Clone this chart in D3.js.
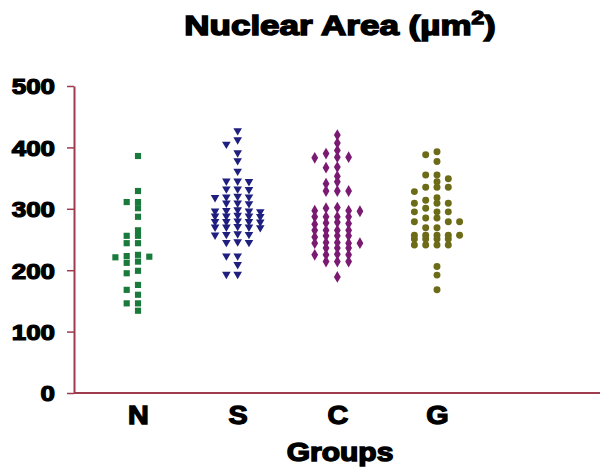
<!DOCTYPE html>
<html>
<head>
<meta charset="utf-8">
<script src="https://cdn.jsdelivr.net/npm/d3@7"></script>
<style>
  body { margin: 0; background: #fff; }
  text { font-family: "Liberation Sans", Arial, sans-serif; font-weight: bold; }
</style>
</head>
<body>
<script>
// data (um^2)
var groups = ["N", "S", "C", "G"];
var nValues = [386, 329, 311, 311, 301, 287, 265, 256, 256, 244, 244, 225, 223, 222, 221, 214, 212, 199, 195, 176, 168, 160, 146, 146, 134];
var sValues = [426, 411, 404, 390, 377, 360, 344, 344, 343, 331, 331, 330, 318, 318, 317, 319, 308, 308, 307, 296, 295, 295, 294, 297,
               287, 287, 288, 286, 287, 278, 278, 279, 277, 278, 269, 269, 270, 268, 269, 257, 257, 258, 256, 244, 244, 245, 222, 222, 208, 192, 192];
var cValues = [420, 407, 395, 390, 384, 384, 383, 368, 367, 353, 344, 341, 329, 329, 329, 302, 301, 297, 297, 296, 287, 287, 287, 287,
               277, 278, 276, 275, 265, 265, 265, 265, 256, 256, 254, 256, 244, 244, 245, 245, 244, 236, 236, 236, 225, 225, 226, 225, 214, 214, 214, 189];
var gValues = [393, 388, 377, 355, 355, 349, 344, 335, 335, 335, 328, 318, 314, 309, 309, 309, 301, 295, 295, 295, 285, 285, 279, 279, 279,
               269, 269, 257, 257, 257, 257, 257, 251, 251, 251, 251, 241, 241, 241, 241, 206, 192, 168];
var yTicks = [0, 100, 200, 300, 400, 500];

var W = 602, H = 467;
var x0 = 74, y0 = 393, yTop = 86, xEnd = 600;
var axisColor = "#9e3b4f";

var series = [
  {name: "N", values: nValues, color: "#1a7a3c", shape: d3.symbolSquare, size: 38},
  {name: "S", values: sValues, color: "#1f1f7f", shape: "tri", size: 0},
  {name: "C", values: cValues, color: "#7a1a72", shape: d3.symbolDiamond, size: 40},
  {name: "G", values: gValues, color: "#6c6c18", shape: d3.symbolCircle, size: 38}
];

var svg = d3.select("body").append("svg").attr("width", W).attr("height", H);

var y = d3.scaleLinear().domain([0, 500]).range([y0, yTop]);
var x = d3.scalePoint().domain(groups).range([138, 437]);

// heavy, wide text (the original uses an Arial Black like face)
function heavy(sel, size, sx, sw) {
  sel.style("font-size", size + "px")
    .style("stroke", "#000").style("stroke-width", sw)
    .attr("fill", "#000");
  sel.each(function() {
    var t = d3.select(this);
    var bx = +t.attr("x") || 0, by = +t.attr("y") || 0;
    t.attr("transform", "translate(" + bx + "," + by + ") scale(" + sx + ",1) translate(" + (-bx) + "," + (-by) + ")");
  });
}

// title
var title = svg.append("text")
  .attr("x", 340).attr("y", 35)
  .attr("text-anchor", "middle")
  .text("Nuclear Area (\u00b5m");
title.append("tspan").attr("dy", -11).style("font-size", "18px").text("2");
title.append("tspan").attr("dy", 11).text(")");
heavy(title, 28, 1.25, 1.5);

// y axis
var yAxis = svg.append("g")
  .attr("transform", "translate(" + x0 + ",0)")
  .call(d3.axisLeft(y).tickValues(yTicks).tickSize(7).tickSizeOuter(0).tickPadding(12));
yAxis.select(".domain").attr("stroke", axisColor).attr("stroke-width", 2);
yAxis.selectAll(".tick line").attr("stroke", axisColor).attr("stroke-width", 1.5);
yAxis.selectAll(".tick text").attr("dy", "0.36em");
heavy(yAxis.selectAll(".tick text"), 22, 1.18, 1.2);

// x axis line
svg.append("line")
  .attr("x1", x0).attr("x2", xEnd).attr("y1", y0).attr("y2", y0)
  .attr("stroke", axisColor).attr("stroke-width", 2);

// group labels
var xAxis = svg.append("g")
  .attr("transform", "translate(0," + y0 + ")")
  .call(d3.axisBottom(x).tickSize(0).tickPadding(13));
xAxis.select(".domain").remove();
heavy(xAxis.selectAll(".tick text"), 25, 1.15, 1.3);

var gLabel = svg.append("text")
  .attr("x", 340).attr("y", 461)
  .attr("text-anchor", "middle")
  .text("Groups");
heavy(gLabel, 25, 1.2, 1.4);

// swarm: each point goes to the column nearest the centre that is free;
// when every column is crowded, take the one with the most room
function swarm(values, step, gap, maxK) {
  var sorted = values.slice().sort(function(a, b) { return b - a; });
  var placed = [];
  var order = [0];
  for (var j = 1; j <= maxK; j++) { order.push(-j, j); }
  return sorted.map(function(v) {
    var py = y(v);
    var best = null, bestRoom = -1;
    for (var i = 0; i < order.length; i++) {
      var k = order[i];
      var room = d3.min(placed.filter(function(p) { return p.k === k; }), function(p) { return Math.abs(p.py - py); });
      if (room === undefined) room = Infinity;
      if (room >= gap) { best = k; break; }
      if (room > bestRoom) { bestRoom = room; best = k; }
    }
    var p = {v: v, k: best, py: py, dx: best * step};
    placed.push(p);
    return p;
  });
}

var triPath = "M-4.3,-3.3L4.3,-3.3L0,4.1z";

series.forEach(function(s) {
  var pts = swarm(s.values, 11.3, 5, 2);
  var g = svg.append("g").attr("transform", "translate(" + x(s.name) + ",0)");
  g.selectAll("path")
    .data(pts)
    .enter()
    .append("path")
    .attr("transform", function(d) { return "translate(" + d.dx + "," + d.py + ")"; })
    .attr("d", s.shape === "tri" ? triPath : d3.symbol().type(s.shape).size(s.size)())
    .attr("fill", s.color);
});
</script>
</body>
</html>
